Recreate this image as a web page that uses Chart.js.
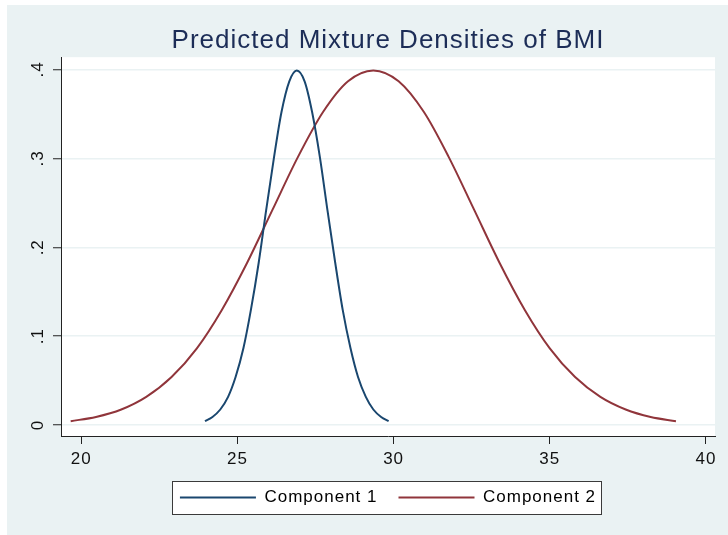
<!DOCTYPE html>
<html>
<head>
<meta charset="utf-8">
<script src="https://cdn.jsdelivr.net/npm/chart.js@4/dist/chart.umd.min.js"></script>
<style>
html, body { margin: 0; padding: 0; background: #fff; }
canvas { display: block; }
</style>
</head>
<body>
<canvas id="graphCanvas" width="728" height="535"></canvas>
<script>
// data
var chartTitle = 'Predicted Mixture Densities of BMI';
var seriesNames = ['Component 1', 'Component 2'];

var comp1X = [23.96, 24.2, 24.45, 24.7, 24.94, 25.19, 25.43, 25.68, 25.92, 26.17, 26.41, 26.66, 26.9,
              27.15, 27.39, 27.64, 27.88, 28.13, 28.37, 28.62, 28.86, 29.11, 29.35, 29.6, 29.84];
var comp1Y = [0.0044, 0.0091, 0.0175, 0.0317, 0.054, 0.0863, 0.1295, 0.1826, 0.242, 0.3011, 0.3521, 0.3867, 0.3989,
              0.3867, 0.3521, 0.3011, 0.242, 0.1826, 0.1295, 0.0863, 0.054, 0.0317, 0.0175, 0.0091, 0.0044];

var comp2X = [19.66, 20.47, 21.28, 22.08, 22.89, 23.7, 24.5, 25.31, 26.12, 26.93, 27.74, 28.54, 29.35,
              30.16, 30.97, 31.77, 32.58, 33.39, 34.2, 35.0, 35.81, 36.62, 37.43, 38.23, 39.04];
var comp2Y = [0.0044, 0.0091, 0.0175, 0.0317, 0.054, 0.0863, 0.1295, 0.1826, 0.242, 0.3011, 0.3521, 0.3867, 0.3989,
              0.3867, 0.3521, 0.3011, 0.242, 0.1826, 0.1295, 0.0863, 0.054, 0.0317, 0.0175, 0.0091, 0.0044];

var xTicks = [20, 25, 30, 35, 40];
var yTicks = [0, 0.1, 0.2, 0.3, 0.4];
var yTickLabels = ['0', '.1', '.2', '.3', '.4'];

function toPoints(xs, ys) {
    var pts = [];
    for (var i = 0; i < xs.length; i++) pts.push({x: xs[i], y: ys[i]});
    return pts;
}

Chart.defaults.font.family = "'Liberation Sans', Arial, sans-serif";
Chart.defaults.color = '#111';

// backgrounds, letter spacing and the legend frame
var stataLook = {
    id: 'stataLook',
    beforeLayout: function(chart) { chart.ctx.letterSpacing = '1px'; },
    beforeDraw: function(chart) {
        var ctx = chart.ctx, a = chart.chartArea;
        ctx.letterSpacing = '1px';
        ctx.save();
        ctx.fillStyle = '#ffffff';
        ctx.fillRect(0, 0, chart.width, chart.height);
        ctx.fillStyle = '#EAF2F3';
        ctx.fillRect(7, 5, chart.width - 7, chart.height - 5);
        ctx.fillStyle = '#ffffff';
        ctx.fillRect(a.left, a.top, a.right - a.left, a.bottom - a.top);
        var f = legendFrame(chart);
        if (f) ctx.fillRect(f.x, f.y, f.w, f.h);
        ctx.restore();
    },
    afterDraw: function(chart) {
        var f = legendFrame(chart);
        if (!f) return;
        var ctx = chart.ctx;
        ctx.save();
        ctx.strokeStyle = '#3a3a3a';
        ctx.lineWidth = 1;
        ctx.strokeRect(f.x + 0.5, f.y + 0.5, f.w, f.h);
        ctx.restore();
    }
};

function legendFrame(chart) {
    var boxes = chart.legend && chart.legend.legendHitBoxes;
    if (!boxes || !boxes.length) return null;
    var minX = Infinity, maxX = -Infinity, minY = Infinity, maxY = -Infinity;
    boxes.forEach(function(b) {
        minX = Math.min(minX, b.left); maxX = Math.max(maxX, b.left + b.width);
        minY = Math.min(minY, b.top); maxY = Math.max(maxY, b.top + b.height);
    });
    return {
        x: Math.round(minX - 8), y: Math.round(minY - 8),
        w: Math.round(maxX - minX + 13), h: Math.round(maxY - minY + 16)
    };
}

var ctx = document.getElementById('graphCanvas').getContext('2d');
ctx.letterSpacing = '1px';

window.myChart = new Chart(ctx, {
    type: 'line',
    data: {
        datasets: [{
            label: seriesNames[0],
            data: toPoints(comp1X, comp1Y),
            borderColor: '#1A476F',
            backgroundColor: '#1A476F',
            borderWidth: 2,
            pointRadius: 0,
            fill: false,
            cubicInterpolationMode: 'monotone'
        }, {
            label: seriesNames[1],
            data: toPoints(comp2X, comp2Y),
            borderColor: '#90353B',
            backgroundColor: '#90353B',
            borderWidth: 2,
            pointRadius: 0,
            fill: false,
            cubicInterpolationMode: 'monotone'
        }]
    },
    options: {
        responsive: false,
        animation: false,
        layout: { padding: { left: 0, right: 13, top: 0, bottom: 19 } },
        plugins: {
            title: {
                display: true,
                text: chartTitle,
                fullSize: false,
                color: '#1c2d57',
                font: { size: 26, weight: 'normal' },
                padding: { top: 25, bottom: 1 }
            },
            legend: {
                position: 'bottom',
                fullSize: false,
                labels: {
                    usePointStyle: true,
                    pointStyle: 'line',
                    pointStyleWidth: 76,
                    padding: 21,
                    color: '#000',
                    font: { size: 17 }
                }
            },
            tooltip: { enabled: false }
        },
        scales: {
            x: {
                type: 'linear',
                min: 19.35,
                max: 40.29,
                afterFit: function(s) { s.height = 32; },
                afterBuildTicks: function(s) { s.ticks = xTicks.map(function(v) { return {value: v}; }); },
                grid: { drawOnChartArea: false, tickLength: 8, tickColor: '#222', tickWidth: 1 },
                border: { color: '#222', width: 1 },
                ticks: { font: { size: 17 }, color: '#111', padding: 5, maxRotation: 0 }
            },
            y: {
                type: 'linear',
                min: -0.0123,
                max: 0.4138,
                afterFit: function(s) { s.width = 61; },
                afterBuildTicks: function(s) { s.ticks = yTicks.map(function(v) { return {value: v}; }); },
                grid: { color: '#EAF2F3', lineWidth: 1.5, tickLength: 8, tickColor: '#222', tickWidth: 1 },
                border: { color: '#222', width: 1 },
                ticks: {
                    font: { size: 17 },
                    color: '#111',
                    padding: 7,
                    minRotation: 90,
                    maxRotation: 90,
                    crossAlign: 'center',
                    callback: function(v) {
                        var i = yTicks.indexOf(Math.round(v * 10) / 10);
                        return i >= 0 ? yTickLabels[i] : '';
                    }
                }
            }
        }
    },
    plugins: [stataLook]
});
</script>
</body>
</html>
